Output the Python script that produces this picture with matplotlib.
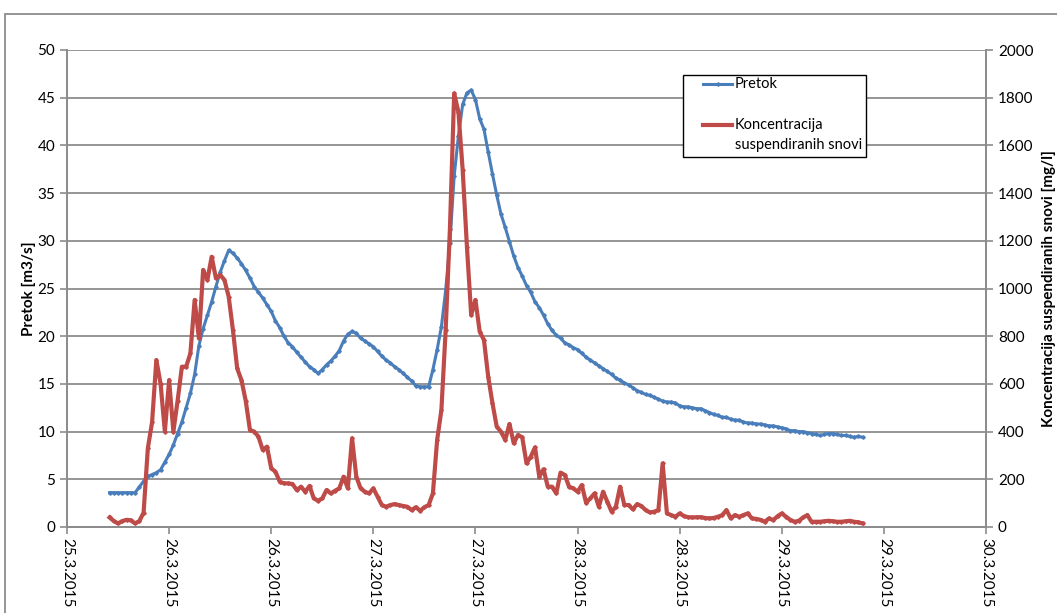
import pandas as pd
import matplotlib
matplotlib.use("Agg")
import matplotlib.pyplot as plt
import matplotlib.dates as mdates
from matplotlib.patches import Rectangle
from matplotlib.lines import Line2D

plt.rcParams['font.family'] = ['Lato', 'DejaVu Sans']

# --- podaci (polusatni) ---
start_axis = pd.Timestamp("2015-03-25 18:00")
start_data = pd.Timestamp("2015-03-25 23:00")

pretok = [
    3.6, 3.6, 3.6, 3.6, 3.6, 3.6, 3.6, 4.2, 4.8, 5.3,
    5.5, 5.7, 6.0, 6.8, 7.6, 8.6, 9.8, 11.0, 12.5, 14.0,
    16.0, 19.0, 20.8, 22.2, 23.6, 25.2, 26.7, 27.9, 29.0, 28.7,
    28.2, 27.6, 26.9, 26.1, 25.2, 24.6, 24.0, 23.3, 22.6, 21.6,
    20.9, 20.0, 19.3, 18.9, 18.3, 17.8, 17.3, 16.8, 16.5, 16.1,
    16.5, 17.0, 17.4, 17.9, 18.5, 19.5, 20.2, 20.5, 20.3, 19.8,
    19.5, 19.2, 18.9, 18.4, 17.9, 17.5, 17.2, 16.8, 16.5, 16.1,
    15.7, 15.3, 14.8, 14.7, 14.7, 14.7, 16.5, 18.6, 21.0, 24.8,
    29.8, 36.8, 41.0, 44.3, 45.5, 45.8, 44.8, 42.8, 41.7, 39.3,
    37.0, 34.8, 32.8, 31.4, 29.9, 28.4, 27.2, 26.3, 25.3, 24.6,
    23.6, 23.0, 22.2, 21.3, 20.6, 20.1, 19.8, 19.3, 19.1, 18.8,
    18.6, 18.2, 17.8, 17.5, 17.2, 16.9, 16.6, 16.3, 16.0, 15.6,
    15.4, 15.1, 14.9, 14.6, 14.3, 14.1, 13.9, 13.8, 13.6, 13.4,
    13.2, 13.1, 13.1, 13.0, 12.7, 12.6, 12.6, 12.5, 12.4, 12.4,
    12.2, 12.0, 11.8, 11.7, 11.5, 11.5, 11.3, 11.2, 11.2, 11.0,
    10.9, 10.9, 10.8, 10.8, 10.7, 10.6, 10.6, 10.5, 10.4, 10.3,
    10.1, 10.1, 10.0, 10.0, 9.9, 9.8, 9.7, 9.6, 9.7, 9.8,
    9.8, 9.7, 9.6, 9.6, 9.5, 9.4, 9.5, 9.4,
]

koncentracija = [
    40, 25, 15, 25, 30, 28, 15, 25, 60, 330,
    440, 700, 600, 400, 616, 400, 530, 672, 672, 728,
    952, 791, 1078, 1036, 1133, 1043, 1057, 1036, 966, 826,
    665, 616, 530, 407, 400, 379, 323, 337, 246, 232,
    190, 183, 183, 180, 155, 169, 148, 172, 120, 110,
    120, 155, 141, 152, 162, 211, 162, 372, 211, 162,
    148, 141, 162, 127, 92, 85, 92, 96, 92, 88,
    85, 71, 83, 68, 83, 92, 141, 365, 491, 826,
    1250, 1818, 1740, 1497, 1175, 889, 952, 819, 784, 630,
    519, 421, 400, 365, 432, 351, 386, 376, 267, 295,
    334, 211, 242, 169, 169, 141, 228, 218, 169, 162,
    148, 176, 102, 120, 141, 85, 148, 106, 64, 85,
    169, 92, 92, 74, 96, 88, 71, 61, 64, 71,
    267, 57, 50, 43, 57, 46, 41, 40, 41, 41,
    38, 36, 38, 43, 50, 71, 36, 50, 43, 50,
    57, 36, 34, 30, 22, 36, 29, 45, 57, 43,
    30, 22, 26, 40, 50, 22, 22, 22, 24, 26,
    24, 22, 22, 24, 26, 22, 20, 15,
]

vrijeme = pd.date_range(start_data, periods=len(pretok), freq="30min")
x_ticks = pd.date_range(start_axis, periods=10, freq="12h")

PLAVA = "#4A7EBB"
CRVENA = "#BE4B48"
SIVA = "#8C8C8C"

W, H = 1057, 613
fig = plt.figure(figsize=(W / 100, H / 100), dpi=100)
fig.patch.set_facecolor("white")

def fx(x):
    return x / W

def fy(y):
    return 1 - y / H

ax = fig.add_axes([fx(67), fy(527), fx(986) - fx(67), fy(50) - fy(527)])
ax2 = ax.twinx()

ax.plot(vrijeme, pretok, color=PLAVA, lw=2.2, marker="D", ms=1.8, zorder=3)
ax2.plot(vrijeme, koncentracija, color=CRVENA, lw=3.0, marker="D", ms=1.8, zorder=3)

ax.set_xlim(x_ticks[0], x_ticks[-1])
ax.set_ylim(0, 50)
ax2.set_ylim(0, 2000)
ax.set_yticks(range(0, 51, 5))
ax2.set_yticks(range(0, 2001, 200))
ax.set_xticks(x_ticks)
ax.xaxis.set_major_formatter(mdates.DateFormatter("%-d.%-m.%Y"))
for lbl in ax.get_xticklabels():
    lbl.set_rotation(-90)

ax.yaxis.grid(True, color=SIVA, lw=1.3)
ax.set_axisbelow(True)
for a in (ax, ax2):
    for s in a.spines.values():
        s.set_color(SIVA)
        s.set_linewidth(1.3)
    a.spines["top"].set_visible(False)
    a.tick_params(colors=SIVA, labelcolor="black", labelsize=11, length=5, width=1.2, direction="out")
ax.tick_params(axis="x", pad=3)

ax.set_ylabel("Pretok [m3/s]", fontsize=11, fontweight="bold", labelpad=1)
ax2.set_ylabel("Koncentracija suspendiranih snovi [mg/l]", fontsize=11, fontweight="bold", labelpad=6)

# okvir grafikona
fig.add_artist(Rectangle((fx(5), -0.2), 2, fy(14) + 0.2, transform=fig.transFigure,
                         fill=False, edgecolor=SIVA, lw=1.3))

# legenda
fig.add_artist(Rectangle((fx(683), fy(157)), fx(866) - fx(683), fy(75) - fy(157),
                         transform=fig.transFigure, facecolor="white", edgecolor="black", lw=1.0, zorder=5))
fig.add_artist(Line2D([fx(703), fx(732)], [fy(84), fy(84)], transform=fig.transFigure,
                      color=PLAVA, lw=2.2, zorder=6))
fig.add_artist(Line2D([fx(717.5)], [fy(84)], transform=fig.transFigure,
                      color=PLAVA, marker="D", ms=1.8, zorder=6))
fig.add_artist(Line2D([fx(703), fx(732)], [fy(125), fy(125)], transform=fig.transFigure,
                      color=CRVENA, lw=3.0, zorder=6))
fig.text(fx(735), fy(84), "Pretok", fontsize=10.5, va="center", ha="left", zorder=7)
fig.text(fx(735), fy(125), "Koncentracija", fontsize=10.5, va="center", ha="left", zorder=7)
fig.text(fx(735), fy(145), "suspendiranih snovi", fontsize=10.5, va="center", ha="left", zorder=7)

fig.savefig("out.png", dpi=100, facecolor="white")
